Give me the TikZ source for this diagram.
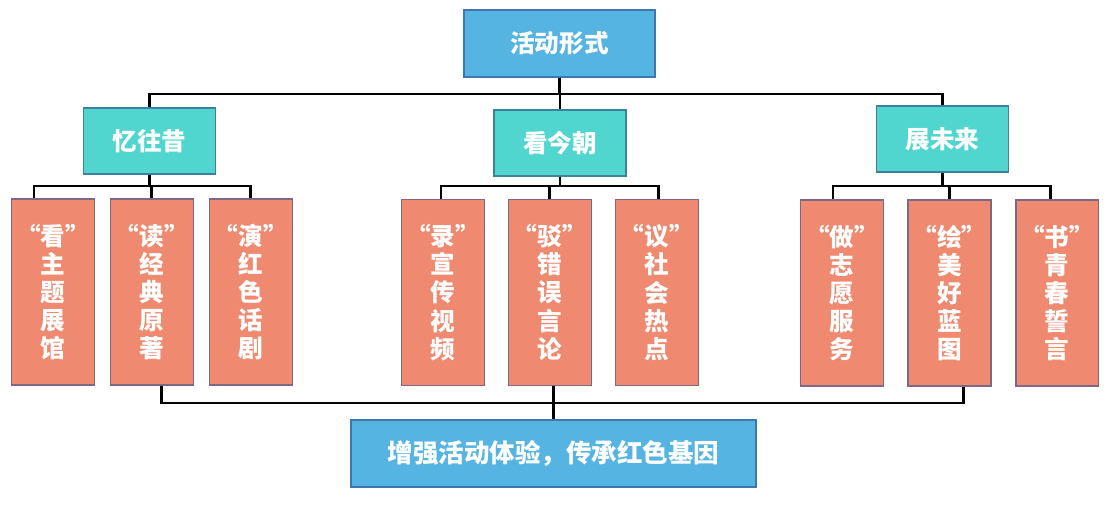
\documentclass[tikz,border=0pt]{standalone}
\usepackage{fontspec}
\usepackage{xcolor}
\usetikzlibrary{positioning}
\newfontfamily\cjk{Noto Sans CJK SC}
\definecolor{topblue}{RGB}{86,180,227}
\definecolor{blueline}{RGB}{62,120,175}
\definecolor{midteal}{RGB}{80,214,206}
\definecolor{tealline}{RGB}{60,130,160}
\definecolor{leafsalmon}{RGB}{239,138,112}
\definecolor{leafline}{RGB}{125,105,135}

\begin{document}
\begin{tikzpicture}[
  x=0.02cm, y=-0.02cm,
  node distance=0.29cm,
  every node/.style={font=\cjk\bfseries, text=white, inner sep=0pt},
  headbox/.style={rectangle, draw=blueline, line width=0.8pt, fill=topblue,
                  minimum width=3.82cm, minimum height=1.34cm, font=\cjk\bfseries\fontsize{14}{16}\selectfont},
  groupbox/.style={rectangle, draw=tealline, line width=0.8pt, fill=midteal,
                   minimum width=2.64cm, minimum height=1.32cm, font=\cjk\bfseries\fontsize{14}{16}\selectfont},
  leafbox/.style={rectangle, draw=leafline, line width=0.8pt, fill=leafsalmon,
                  minimum width=1.66cm, minimum height=3.72cm, align=center,
                  font=\cjk\bfseries\fontsize{14}{16}\selectfont},
  goalbox/.style={rectangle, draw=blueline, line width=0.8pt, fill=topblue,
                  minimum width=8.1cm, minimum height=1.34cm, font=\cjk\bfseries\fontsize{14.5}{16}\selectfont},
  link/.style={line width=1.6pt, black}
]
\useasboundingbox (0,0) rectangle (1114,505);

%--- Rails ---%
\coordinate (railT) at (0,94);
\coordinate (railA) at (0,186);
\coordinate (railB) at (0,403);

%--- Head and groups ---%
\node[headbox]  (head) at (559.5,43.5) {活动形式};
\node[groupbox] (past) at (149.5,141)  {忆往昔};
\node[groupbox] (now)  at (560,143)    {看今朝};
\node[groupbox] (next) at (942.5,139)  {展未来};

%--- Leaves ---%
\node[leafbox] (look)  at (53,292)  {“看”\\主\\题\\展\\馆};
\node[leafbox, right=of look]  (read)  {“读”\\经\\典\\原\\著};
\node[leafbox, right=of read]  (play)  {“演”\\红\\色\\话\\剧};

\node[leafbox] (film)  at (443,292.5) {“录”\\宣\\传\\视\\频};
\node[leafbox, right=0.45cm of film] (refute) {“驳”\\错\\误\\言\\论};
\node[leafbox, right=0.45cm of refute] (talk) {“议”\\社\\会\\热\\点};

\node[leafbox] (serve) at (842,293) {“做”\\志\\愿\\服\\务};
\node[leafbox, right=0.46cm of serve] (paint) {“绘”\\美\\好\\蓝\\图};
\node[leafbox, right=0.47cm of paint] (write) {“书”\\青\\春\\誓\\言};

%--- Goal ---%
\node[goalbox] (goal) at (553.5,453.5) {增强活动体验，传承红色基因};

%--- Connectors ---%
\foreach \g in {past,now,next}
  \draw[link] (head.south) -- (head.south |- railT) -| (\g.north);
\foreach \l/\s in {look/-0.38cm, read/0cm, play/0cm}
  \draw[link] (past.south) -- (past.south |- railA) -| ([xshift=\s]\l.north);
\foreach \l/\s in {film/-0.04cm, refute/0cm, talk/0.04cm}
  \draw[link] (now.south) -- (now.south |- railA) -| ([xshift=\s]\l.north);
\foreach \l/\s in {serve/-0.18cm, paint/0cm, write/-0.14cm}
  \draw[link] (next.south) -- (next.south |- railA) -| ([xshift=\s]\l.north);
\draw[link] ([xshift=0.2cm]read.south) -- ([xshift=0.2cm]read.south |- railB)
  -- ([xshift=0.28cm]paint.south |- railB) -- ([xshift=0.28cm]paint.south);
\draw[link] (goal.north) -- (goal.north |- refute.south);

\end{tikzpicture}
\end{document}
